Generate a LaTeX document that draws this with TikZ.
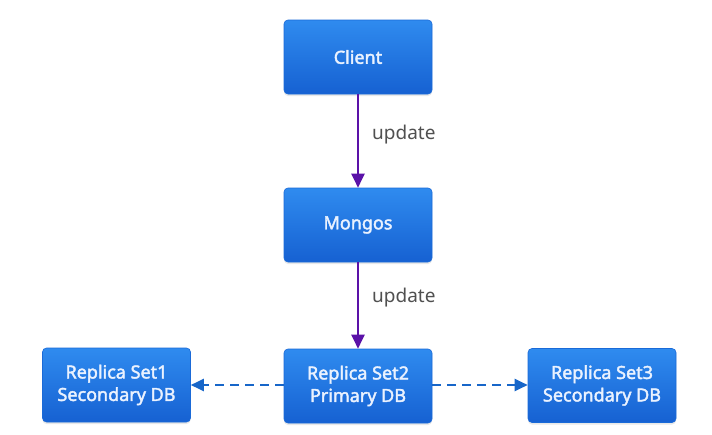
\documentclass[tikz,border=0pt]{standalone}
\usepackage{fontspec}
\setmainfont{Noto Sans}
\newfontfamily\boxfont{Noto Sans}[FakeBold=2.2]
\usetikzlibrary{arrows.meta,shadows}
\definecolor{boxtop}{HTML}{2F8BEF}
\definecolor{boxbot}{HTML}{1661D2}
\definecolor{boxline}{HTML}{1A6AD8}
\definecolor{boxtext}{HTML}{EAF2FF}
\definecolor{purplearrow}{HTML}{5B12A8}
\definecolor{dasharrow}{HTML}{1766C9}
\definecolor{labelgray}{HTML}{505050}
\tikzset{
  dbbox/.style={draw=boxline, line width=0.6pt, rounded corners=4pt,
    top color=boxtop, bottom color=boxbot,
    minimum width=148pt, minimum height=74pt, inner sep=0pt,
    align=center, text=boxtext, font=\boxfont\fontsize{18}{22.5}\selectfont\bfseries,
    drop shadow={shadow xshift=0pt, shadow yshift=-2pt, opacity=0.18}},
  updarrow/.style={draw=purplearrow, line width=2pt,
    -{Triangle[width=13pt,length=14pt]}},
  reparrow/.style={draw=dasharrow, line width=2pt, dash pattern=on 9pt off 6pt,
    -{Triangle[width=12pt,length=13pt]}},
  lbl/.style={text=labelgray, font=\fontsize{19}{22}\selectfont, anchor=west, inner sep=0pt}
}
\begin{document}
\begin{tikzpicture}[x=1pt,y=-1pt]
\useasboundingbox (0,0) rectangle (712,434);
\fill[white] (0,0) rectangle (712,434);
\node[dbbox] (client) at (358,57) {Client};
\node[dbbox] (mongos) at (358,225) {Mongos};
\node[dbbox] (rs2) at (358,386) {Replica Set2\\Primary DB};
\node[dbbox] (rs1) at (116.5,385) {Replica Set1\\Secondary DB};
\node[dbbox] (rs3) at (602,385.5) {Replica Set3\\Secondary DB};
\draw[updarrow] (client) -- (mongos);
\draw[updarrow] (mongos) -- (rs2);
\node[lbl] (l1) at (372,135) {update};
\node[lbl] (l2) at (372,298) {update};
\draw[reparrow] (rs2.west |- 0,385) -- (rs1.east |- 0,385);
\draw[reparrow] (rs2.east |- 0,385) -- (rs3.west |- 0,385);
\end{tikzpicture}
\end{document}
